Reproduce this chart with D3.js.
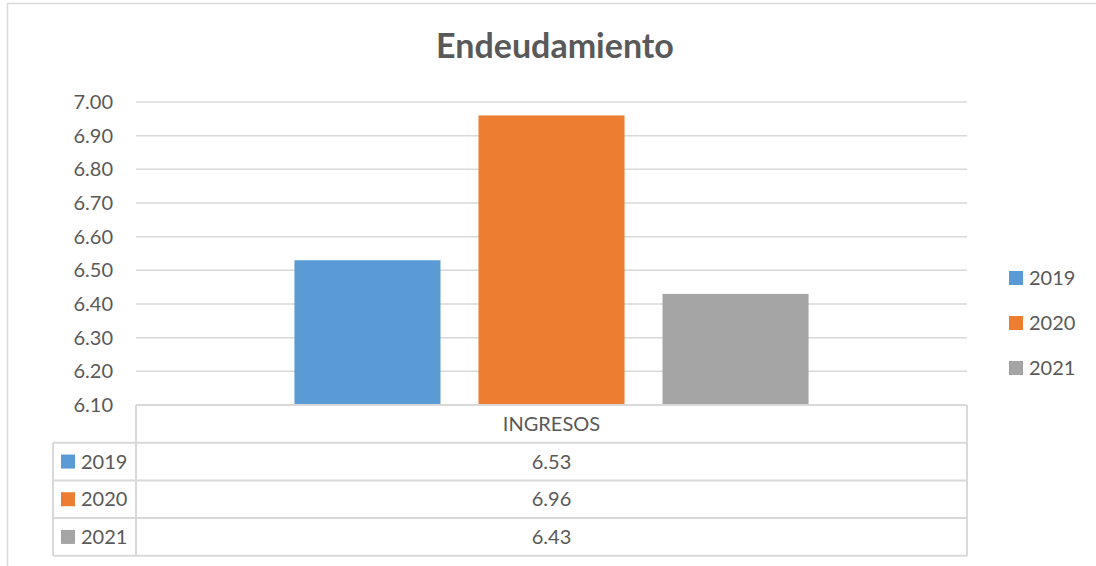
<!DOCTYPE html>
<html>
<head>
<meta charset="utf-8">
<script src="https://cdn.jsdelivr.net/npm/d3@7"></script>
<style>
  body { margin: 0; background: #fff; }
  svg { display: block; font-family: Lato, "Open Sans", sans-serif; }
</style>
</head>
<body>
<svg id="chart" width="1096" height="566"></svg>
<script>
let title = 'Endeudamiento';
let category = 'INGRESOS';
let years = ['2019', '2020', '2021'];
let values = [6.53, 6.96, 6.43];
let colors = ['#5b9bd5', '#ed7d31', '#a5a5a5'];
let yTicks = [6.1, 6.2, 6.3, 6.4, 6.5, 6.6, 6.7, 6.8, 6.9, 7.0];

let svg = d3.select('#chart');
let textColor = '#595959';
let lineColor = '#d9d9d9';
let fontSize = 20;

// outer chart border
svg.append('rect')
    .attr('x', 7.5).attr('y', 3.5)
    .attr('width', 1100).attr('height', 600)
    .attr('fill', 'none')
    .attr('stroke', lineColor)
    .attr('stroke-width', 1.5);

svg.append('text')
    .attr('x', 555).attr('y', 58)
    .attr('text-anchor', 'middle')
    .attr('font-size', 34)
    .attr('font-weight', 'bold')
    .attr('fill', textColor)
    .text(title);

let plotLeft = 136, plotRight = 967;
let y = d3.scaleLinear().domain([6.1, 7.0]).range([405, 102]);
let x = d3.scaleBand().domain([category]).range([plotLeft, plotRight]);
let xs = d3.scaleBand().domain(years).range([0, x.bandwidth()])
    .paddingInner(0.2065).paddingOuter(0.861);

// gridlines
svg.append('g')
    .selectAll('line')
    .data(yTicks)
  .enter().append('line')
    .attr('x1', plotLeft).attr('x2', plotRight)
    .attr('y1', d => y(d)).attr('y2', d => y(d))
    .attr('stroke', lineColor)
    .attr('stroke-width', 1.5);

// y axis labels
let yAxis = svg.append('g')
    .attr('transform', 'translate(' + (plotLeft - 8) + ',0)')
    .call(d3.axisLeft(y).tickValues(yTicks).tickFormat(d3.format('.2f')).tickSize(0).tickPadding(15));
yAxis.select('.domain').remove();
yAxis.selectAll('text')
    .attr('font-size', fontSize)
    .attr('font-family', 'Lato, "Open Sans", sans-serif')
    .attr('fill', textColor);

// bars
svg.append('g')
    .selectAll('rect')
    .data(values)
  .enter().append('rect')
    .attr('x', (d, i) => x(category) + xs(years[i]))
    .attr('y', d => y(d))
    .attr('width', xs.bandwidth())
    .attr('height', d => y(6.1) - y(d))
    .attr('fill', (d, i) => colors[i]);

// right legend
let legend = svg.append('g')
    .selectAll('g')
    .data(years)
  .enter().append('g')
    .attr('transform', (d, i) => 'translate(1009,' + (271 + i * 45) + ')');
legend.append('rect')
    .attr('width', 14).attr('height', 14)
    .attr('fill', (d, i) => colors[i]);
legend.append('text')
    .attr('x', 20).attr('y', 14)
    .attr('font-size', fontSize)
    .attr('fill', textColor)
    .text(d => d);

// data table
let rowH = 37.7;
let tableTop = 405;
let table = svg.append('g')
    .attr('fill', 'none')
    .attr('stroke', lineColor)
    .attr('stroke-width', 2);
table.append('line')
    .attr('x1', plotLeft).attr('x2', plotLeft)
    .attr('y1', tableTop).attr('y2', tableTop + rowH * 4);
table.append('line')
    .attr('x1', plotRight).attr('x2', plotRight)
    .attr('y1', tableTop).attr('y2', tableTop + rowH * 4);
table.append('line')
    .attr('x1', 53).attr('x2', 53)
    .attr('y1', tableTop + rowH).attr('y2', tableTop + rowH * 4);
table.selectAll('.row-line')
    .data(d3.range(5))
  .enter().append('line')
    .attr('x1', d => d === 0 ? plotLeft : 53)
    .attr('x2', plotRight)
    .attr('y1', d => tableTop + d * rowH)
    .attr('y2', d => tableTop + d * rowH);

svg.append('text')
    .attr('x', (plotLeft + plotRight) / 2)
    .attr('y', tableTop + rowH / 2 + 7)
    .attr('text-anchor', 'middle')
    .attr('font-size', fontSize)
    .attr('fill', textColor)
    .text(category);

let rows = svg.append('g')
    .selectAll('g')
    .data(years)
  .enter().append('g')
    .attr('transform', (d, i) => 'translate(0,' + (tableTop + (i + 1) * rowH) + ')');
rows.append('rect')
    .attr('x', 61).attr('y', rowH / 2 - 7)
    .attr('width', 14).attr('height', 14)
    .attr('fill', (d, i) => colors[i]);
rows.append('text')
    .attr('x', 81).attr('y', rowH / 2 + 7)
    .attr('font-size', fontSize)
    .attr('fill', textColor)
    .text(d => d);
rows.append('text')
    .attr('x', (plotLeft + plotRight) / 2)
    .attr('y', rowH / 2 + 7)
    .attr('text-anchor', 'middle')
    .attr('font-size', fontSize)
    .attr('fill', textColor)
    .text((d, i) => d3.format('.2f')(values[i]));
</script>
</body>
</html>
